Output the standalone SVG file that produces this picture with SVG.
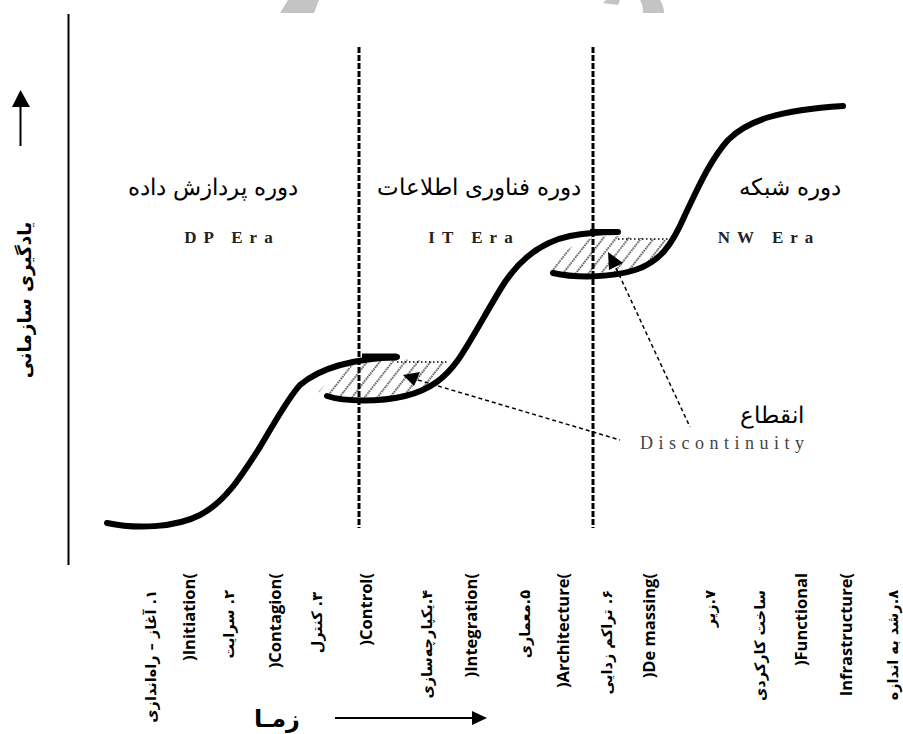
<svg xmlns="http://www.w3.org/2000/svg" width="903" height="734" viewBox="0 0 903 734">
<defs>
<style>
.axis{stroke:#000;stroke-width:2;fill:none}
.era-line{stroke:#000;stroke-width:3;stroke-dasharray:6 2;fill:none}
.curve{stroke:#000;stroke-width:6;fill:none;stroke-linecap:round;stroke-linejoin:round}
.leader{stroke:#000;stroke-width:1.5;stroke-dasharray:4 3;fill:none}
.dotedge{stroke:#000;stroke-width:1.3;stroke-dasharray:1.5 2.5;fill:none}
.fa{font-family:"DejaVu Serif","Liberation Serif","Noto Sans",serif;font-size:23px;fill:#000}
.era{font-family:"Liberation Serif","Times New Roman",serif;font-weight:bold;font-size:17px;letter-spacing:7px;fill:#222}
.lblfa{font-family:"DejaVu Sans","Noto Sans",sans-serif;font-weight:bold;font-size:14.5px;fill:#000}
.lblen{font-family:"Open Sans","Liberation Sans",sans-serif;font-weight:bold;font-size:16.5px;fill:#000}
</style>
<pattern id="hatch" width="10" height="10" patternUnits="userSpaceOnUse" patternTransform="rotate(38)">
<line x1="2" y1="0" x2="2" y2="10" stroke="#000" stroke-width="1.3" stroke-dasharray="1.5 1"/>
</pattern>
</defs>
<rect width="903" height="734" fill="#fff"/>
<g id="watermark" fill="#c4c4c4">
<polygon points="280,13 288,0 319,0 314,13"/>
<polygon points="603,3 606,0 620,0 618,5"/>
<path d="M640,0 L660,0 Q664,6 664,13 L643,13 Q643,5 640,0 Z"/>
</g>
<g id="axes">
<line class="axis" x1="68.5" y1="14" x2="68.5" y2="565"/>
<line class="axis" x1="20.5" y1="146" x2="20.5" y2="104"/>
<polygon points="12,107 20.5,90 30,107" fill="#000"/>
<line class="axis" x1="335" y1="718" x2="474" y2="718"/>
<polygon points="472,711 487,718 472,725" fill="#000"/>
</g>
<g id="era-dividers">
<line class="era-line" x1="359" y1="47" x2="359" y2="528"/>
<line class="era-line" x1="593" y1="47" x2="593" y2="528"/>
</g>
<g id="hatched-areas">
<polygon points="318,392 330,380 345,368 367,360 397,359 447,362 440,383 417,391 393,397 360,400 330,396" fill="url(#hatch)"/>
<line class="dotedge" x1="397" y1="362" x2="448" y2="362"/>
<polygon points="543,273 555,258 570,248 593,237 618,236 668,240 672,246 660,258 635,268 610,273 590,275 555,272" fill="url(#hatch)"/>
<line class="dotedge" x1="618" y1="239" x2="668" y2="239"/>
</g>
<g id="curves">
<path class="curve" d="M107,523 C135,529 175,528 200,515 C225,502 240,478 260,447 C275,422 288,398 300,385 C320,368 350,359 397,357"/>
<line x1="362" y1="357" x2="397" y2="357" stroke="#000" stroke-width="7"/>
<path class="curve" d="M327,396 C345,402 380,402 405,396 C430,390 445,378 458,360 C472,340 490,305 505,282 C520,260 540,242 570,236 C585,233 600,232 618,232"/>
<line x1="590" y1="232" x2="618" y2="232" stroke="#000" stroke-width="6"/>
<path class="curve" d="M553,273 C575,278 610,278 635,270 C660,262 672,245 685,215 C697,190 710,160 728,140 C748,120 780,110 843,106"/>
</g>
<g id="connectors">
<path class="leader" d="M418,380 L620,440"/>
<polygon points="403,375 420,372 414,386" fill="#000"/>
<path class="leader" d="M616,268 L690,427"/>
<polygon points="608,252 623,263 609,270" fill="#000"/>
</g>
<g id="era-dp">
<text class="fa" x="213" y="195" text-anchor="middle" direction="rtl">دوره پردازش داده</text>
<text class="era" x="232" y="243" text-anchor="middle">DP Era</text>
</g>
<g id="era-it">
<text class="fa" x="479" y="195" text-anchor="middle" direction="rtl">دوره فناوری اطلاعات</text>
<text class="era" x="474" y="243" text-anchor="middle">IT Era</text>
</g>
<g id="era-nw">
<text class="fa" x="790" y="195" text-anchor="middle" direction="rtl">دوره شبکه</text>
<text class="era" x="769" y="243" text-anchor="middle">NW Era</text>
</g>
<g id="discontinuity">
<text class="fa" x="772" y="423" text-anchor="middle" direction="rtl">انقطاع</text>
<text x="640" y="449" font-family="Liberation Serif,serif" font-size="18" letter-spacing="5.5" fill="#444">Discontinuity</text>
</g>
<g id="y-label">
<text transform="translate(24,300) rotate(-90)" text-anchor="middle" dominant-baseline="central" direction="rtl" font-family="DejaVu Sans,sans-serif" font-weight="bold" font-size="18.5">یادگیری سازمانی</text>
</g>
<g id="x-label">
<text x="277" y="727" text-anchor="middle" direction="rtl" font-family="DejaVu Sans,sans-serif" font-weight="bold" font-size="24">زمـا</text>
</g>
<g id="stages">
<text class="lblfa" transform="translate(151,590) rotate(-90)" direction="rtl" text-anchor="start" dominant-baseline="central">۱. آغاز – راه‌اندازی</text>
<text class="lblen" transform="translate(188,573) rotate(-90)" text-anchor="end" dominant-baseline="central">)Initiation(</text>
<text class="lblfa" transform="translate(229,590) rotate(-90)" direction="rtl" text-anchor="start" dominant-baseline="central">۲. سرایت</text>
<text class="lblen" transform="translate(274,573) rotate(-90)" text-anchor="end" dominant-baseline="central">)Contagion(</text>
<text class="lblfa" transform="translate(317,592) rotate(-90)" direction="rtl" text-anchor="start" dominant-baseline="central">۳. کنترل</text>
<text class="lblen" transform="translate(365,573) rotate(-90)" text-anchor="end" dominant-baseline="central">)Control(</text>
<text class="lblfa" transform="translate(427,590) rotate(-90)" direction="rtl" text-anchor="start" dominant-baseline="central">۴.یکپارچه‌سازی</text>
<text class="lblen" transform="translate(470,573) rotate(-90)" text-anchor="end" dominant-baseline="central">)Integration(</text>
<text class="lblfa" transform="translate(525,590) rotate(-90)" direction="rtl" text-anchor="start" dominant-baseline="central">۵.معماری</text>
<text class="lblen" transform="translate(562,573) rotate(-90)" text-anchor="end" dominant-baseline="central">)Architecture(</text>
<text class="lblfa" transform="translate(607,590) rotate(-90)" direction="rtl" text-anchor="start" dominant-baseline="central">۶. تراکم زدایی</text>
<text class="lblen" transform="translate(648,573) rotate(-90)" text-anchor="end" dominant-baseline="central">)De massing(</text>
<text class="lblfa" transform="translate(710,590) rotate(-90)" direction="rtl" text-anchor="start" dominant-baseline="central">۷.زیر</text>
<text class="lblfa" transform="translate(760,590) rotate(-90)" direction="rtl" text-anchor="start" dominant-baseline="central">ساخت کارکردی</text>
<text class="lblen" transform="translate(800,573) rotate(-90)" text-anchor="end" dominant-baseline="central">)Functional</text>
<text class="lblen" transform="translate(845,573) rotate(-90)" text-anchor="end" dominant-baseline="central">Infrastructure(</text>
<text class="lblfa" transform="translate(893,590) rotate(-90)" direction="rtl" text-anchor="start" dominant-baseline="central">۸.رشد به اندازه</text>
</g>
</svg>
